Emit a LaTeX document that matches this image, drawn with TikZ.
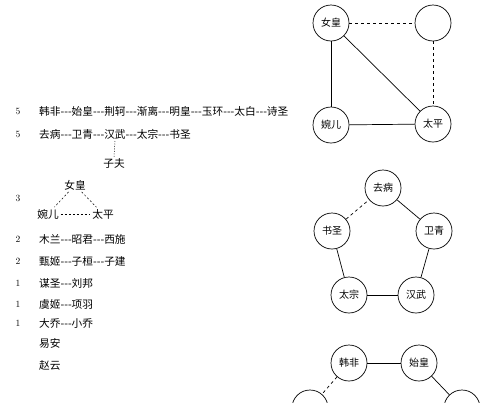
\documentclass[tikz,border=0pt]{standalone}
\usepackage{fontspec}
\newfontfamily\cjk{Noto Sans CJK SC}
\begin{document}
\begin{tikzpicture}[x=1pt,y=-1pt,
  person/.style={circle,draw,line width=0.7pt,minimum size=36pt,inner sep=0pt,font=\cjk\fontsize{10}{12}\selectfont},
  edge/.style={line width=0.7pt},
  dedge/.style={line width=0.7pt,dash pattern=on 3pt off 3pt},
  row/.style={anchor=west,inner sep=0pt,font=\cjk\fontsize{10.7}{12}\selectfont},
  num/.style={inner sep=0pt,font=\fontsize{9.5}{11}\selectfont},
  small/.style={inner sep=1pt,font=\cjk\fontsize{10.7}{12}\selectfont},
  sdash/.style={line width=0.5pt,dash pattern=on 2pt off 2pt}]
\useasboundingbox (0,0) rectangle (500,402);
\fill[white] (0,0) rectangle (500,402);
\begin{scope}
\clip (0,0) rectangle (500,402);
% top graph
\node[person] (nh) at (331,23) {女皇};
\node[person] (ee) at (433,23) {};
\node[person] (we) at (331,125) {婉儿};
\node[person] (tp) at (433,124) {太平};
\draw[dedge] (nh) -- (ee);
\draw[dedge] (ee) -- (tp);
\draw[edge] (nh) -- (we);
\draw[edge] (nh) -- (tp);
\draw[edge] (we) -- (tp);
% pentagon
\node[person] (qb) at (383,188) {去病};
\node[person] (wq) at (434,231) {卫青};
\node[person] (hw) at (416,295) {汉武};
\node[person] (tz) at (349,295) {太宗};
\node[person] (ss) at (332,231) {书圣};
\draw[edge] (qb) -- (wq);
\draw[edge] (wq) -- (hw);
\draw[edge] (hw) -- (tz);
\draw[edge] (tz) -- (ss);
\draw[dedge] (ss) -- (qb);
% bottom graph
\node[person] (hf) at (349,363) {韩非};
\node[person] (sh) at (419,363) {始皇};
\node[person] (bl) at (310,408) {};
\node[person] (br) at (462,408) {};
\draw[edge] (hf) -- (sh);
\draw[dedge] (hf) -- (bl);
\draw[edge] (sh) -- (br);
\end{scope}
% left list
\node[num] (n1) at (18,111) {5};
\node[row] (r1) at (39,111) {韩非-{}-{}-始皇-{}-{}-荆轲-{}-{}-渐离-{}-{}-明皇-{}-{}-玉环-{}-{}-太白-{}-{}-诗圣};
\node[num] (n2) at (18,134) {5};
\node[row] (r2) at (39,134) {去病-{}-{}-卫青-{}-{}-汉武-{}-{}-太宗-{}-{}-书圣};
\coordinate (hwb) at (115,141);
\node[small] (zf) at (114,163) {子夫};
\draw[sdash,dash pattern=on 1pt off 1.5pt] (hwb) -- (zf.north);
\node[num] (n3) at (18,198) {3};
\node[small] (t1) at (75,185) {女皇};
\node[small] (t2) at (48,214) {婉儿};
\node[small] (t3) at (103,214) {太平};
\draw[sdash,shorten <=1pt,shorten >=1pt] (t1) -- (t2);
\draw[sdash,shorten <=1pt,shorten >=1pt] (t1) -- (t3);
\draw[sdash,shorten <=1pt,shorten >=1pt] (t2) -- (t3);
\node[num] (n4) at (18,239) {2};
\node[row] (r4) at (39,239) {木兰-{}-{}-昭君-{}-{}-西施};
\node[num] (n5) at (18,261) {2};
\node[row] (r5) at (39,261) {甄姬-{}-{}-子桓-{}-{}-子建};
\node[num] (n6) at (18,283) {1};
\node[row] (r6) at (39,283) {谋圣-{}-{}-刘邦};
\node[num] (n7) at (18,304) {1};
\node[row] (r7) at (39,304) {虞姬-{}-{}-项羽};
\node[num] (n8) at (18,323) {1};
\node[row] (r8) at (39,323) {大乔-{}-{}-小乔};
\node[row] (r9) at (39,343) {易安};
\node[row] (r10) at (39,365) {赵云};
\end{tikzpicture}
\end{document}
